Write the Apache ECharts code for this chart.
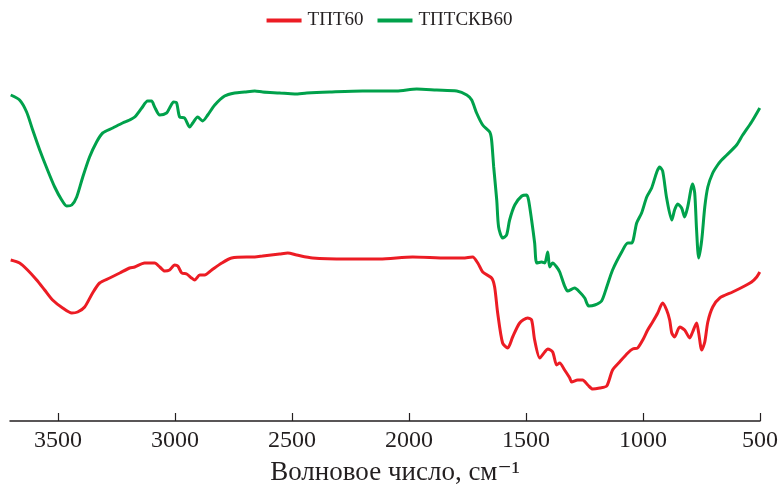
<!DOCTYPE html>
<html>
<head>
<meta charset="utf-8">
<script src="https://cdn.jsdelivr.net/npm/echarts@6/dist/echarts.min.js"></script>
<style>
  html, body { margin: 0; padding: 0; background: #fff; }
  #chart { width: 779px; height: 489px; }
</style>
</head>
<body>
<div id="chart"></div>
<script>
// IR spectra: transmittance (arb. units) vs wavenumber, cm^-1
const xTicks = [3500, 3000, 2500, 2000, 1500, 1000, 500];

const wnTPT = [3702, 3664, 3630, 3591, 3557, 3523, 3480, 3441, 3416, 3386, 3352, 3322, 3279, 3236, 3194, 3172, 3130, 3087, 3065, 3044, 3023, 3001, 2988, 2971, 2950, 2929, 2916, 2894, 2873, 2843, 2800, 2758, 2694, 2659, 2625, 2553, 2518, 2480, 2412, 2266, 2125, 1984, 1839, 1770, 1728, 1706, 1685, 1647, 1634, 1621, 1600, 1578, 1557, 1527, 1493, 1476, 1463, 1441, 1420, 1407, 1386, 1369, 1356, 1335, 1313, 1305, 1279, 1258, 1236, 1215, 1185, 1155, 1130, 1100, 1065, 1044, 1023, 1001, 980, 959, 937, 916, 899, 886, 877, 865, 843, 822, 800, 788, 771, 762, 749, 736, 723, 702, 672, 617, 574, 536, 514, 501];
const tTPT = [40.25, 39.5, 37.75, 35.25, 32.75, 30.25, 28.25, 27, 27.25, 28.5, 32, 34.5, 35.75, 37, 38.25, 38.5, 39.5, 39.5, 38.5, 37.5, 37.75, 39, 38.75, 37, 36.75, 35.75, 35.25, 36.5, 36.5, 37.75, 39.5, 40.75, 41, 41, 41.25, 41.75, 42, 41.5, 40.75, 40.5, 40.5, 41, 40.75, 40.75, 41, 39.5, 37.25, 35.75, 33.5, 27, 19.5, 18.25, 21, 24.5, 25.75, 25.25, 20.25, 15.75, 17.25, 18, 17.25, 14, 14.5, 12.75, 10.75, 9.75, 10.25, 10.25, 9, 8, 8.25, 8.75, 12.75, 14.75, 17, 18, 18.25, 20.25, 22.75, 24.75, 27, 29.5, 27.75, 25.25, 22, 21, 23.5, 22.75, 20.75, 22.25, 24.5, 22, 17.75, 19.75, 24.75, 28.5, 30.75, 32.25, 33.5, 34.75, 36, 37.25];

const wnTPTSKV = [3702, 3664, 3634, 3608, 3578, 3548, 3514, 3484, 3463, 3441, 3420, 3394, 3365, 3335, 3309, 3266, 3224, 3194, 3172, 3142, 3117, 3100, 3087, 3065, 3036, 3023, 3006, 2993, 2980, 2959, 2937, 2924, 2903, 2882, 2860, 2830, 2788, 2745, 2702, 2659, 2625, 2553, 2488, 2437, 2339, 2198, 2053, 1967, 1882, 1796, 1753, 1732, 1711, 1685, 1655, 1647, 1638, 1625, 1617, 1600, 1583, 1570, 1548, 1518, 1497, 1489, 1476, 1463, 1454, 1433, 1420, 1407, 1399, 1386, 1369, 1356, 1335, 1322, 1292, 1271, 1249, 1232, 1206, 1177, 1155, 1130, 1091, 1065, 1048, 1027, 1006, 984, 963, 941, 929, 916, 899, 877, 865, 852, 835, 822, 809, 788, 779, 771, 762, 749, 736, 723, 702, 681, 664, 642, 600, 574, 536, 501];
const tTPTSKV = [81.5, 80.25, 77.25, 72.75, 67.75, 63.25, 58.5, 55.25, 53.75, 54, 56, 61, 66, 69.75, 72, 73.25, 74.5, 75.25, 76, 78.25, 80, 80, 78.5, 76.5, 77, 78.25, 79.75, 79.5, 76, 75.75, 73.5, 74.5, 76, 75, 76.5, 79, 81.25, 82, 82.25, 82.5, 82.25, 82, 81.75, 82, 82.25, 82.5, 82.5, 83, 82.75, 82.5, 81.5, 80.25, 77, 74, 72.25, 70.25, 63.5, 55.25, 48.5, 45.75, 46.5, 50.25, 54, 56.25, 56.5, 55.25, 50.25, 44.5, 39.5, 39.75, 39.5, 42.25, 38.5, 39.5, 38.5, 37.25, 33.75, 32.5, 33.25, 32.25, 30.75, 28.75, 29, 30, 33.5, 37.75, 42.25, 44.5, 44.5, 49.5, 52, 56, 58.25, 62.25, 63.5, 62.5, 55.75, 50.25, 52.75, 54.25, 53.25, 51, 53.5, 59.25, 57, 47.75, 40.75, 45.25, 53.5, 58.5, 62, 64, 65.25, 66.5, 69, 71.5, 74.75, 78.25];

const zip = (xs, ys) => xs.map((x, i) => [x, ys[i]]);
const serif = "'Liberation Serif', 'Times New Roman', 'DejaVu Serif', serif";
const ink = '#231f20';

const chart = echarts.init(document.getElementById('chart'), null, { renderer: 'canvas' });
chart.setOption({
  animation: false,
  backgroundColor: '#ffffff',
  legend: {
    top: 6,
    left: 'center',
    padding: [5, 14, 5, 4],
    itemWidth: 35,
    itemHeight: 4,
    itemGap: 14,
    icon: 'rect',
    textStyle: { fontFamily: serif, fontSize: 19, color: ink, padding: [0, 0, 0, 1] },
    data: ['ТПТ60', 'ТПТСКВ60']
  },
  grid: { left: 10, right: 19, top: 21, bottom: 68, outerBoundsMode: 'none', containLabel: false },
  xAxis: {
    type: 'value',
    inverse: true,
    min: 500,
    max: 3705,
    name: 'Волновое число, см⁻¹',
    nameLocation: 'middle',
    nameGap: 38,
    nameTextStyle: { fontFamily: serif, fontSize: 27, color: ink, padding: [0, 0, 0, 20] },
    axisLine: { lineStyle: { color: ink, width: 1.5 } },
    axisTick: { inside: true, length: 8, customValues: xTicks, lineStyle: { color: ink, width: 1.2 } },
    axisLabel: {
      customValues: xTicks,
      formatter: (v) => String(v),
      fontFamily: serif, fontSize: 24, color: ink, margin: 8
    },
    splitLine: { show: false }
  },
  yAxis: {
    type: 'value',
    min: 0,
    max: 100,
    show: false
  },
  series: [
    {
      name: 'ТПТ60',
      type: 'line',
      data: zip(wnTPT, tTPT),
      showSymbol: false,
      smooth: 0.25,
      color: '#ec1c24',
      lineStyle: { width: 3, color: '#ec1c24' }
    },
    {
      name: 'ТПТСКВ60',
      type: 'line',
      data: zip(wnTPTSKV, tTPTSKV),
      showSymbol: false,
      smooth: 0.25,
      color: '#00a14b',
      lineStyle: { width: 3, color: '#00a14b' }
    }
  ]
});
</script>
</body>
</html>
